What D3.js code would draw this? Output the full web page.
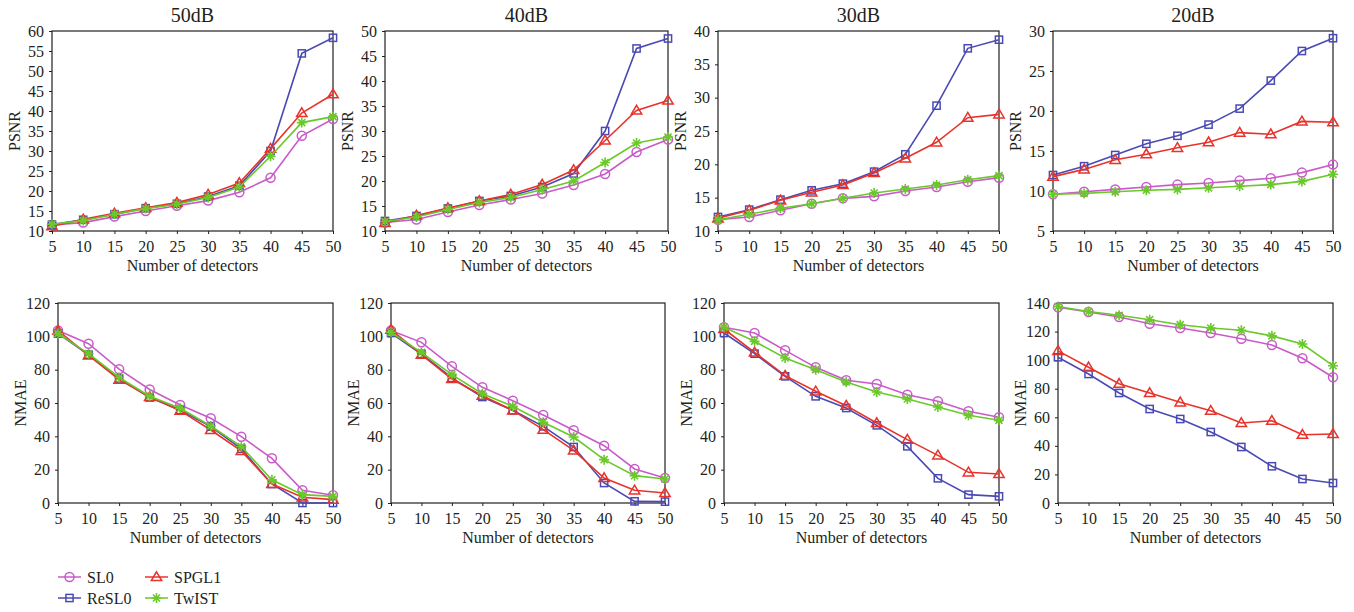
<!DOCTYPE html>
<html>
<head>
<meta charset="utf-8">
<script src="https://cdn.jsdelivr.net/npm/d3@7"></script>
<style>
  body { margin: 0; background: #fff; }
  text { font-family: "Liberation Serif", "DejaVu Serif", serif; fill: #231f20; }
</style>
</head>
<body>
<svg id="chart" width="1354" height="612"></svg>
<script>
// x values shared by every panel
const detectors = [5, 10, 15, 20, 25, 30, 35, 40, 45, 50];
const methods = ["SL0", "ReSL0", "SPGL1", "TwIST"];
const colors = ["#c95bc9", "#4a4ab4", "#e8332b", "#6ac92a"];
const shapes = ["circle", "square", "triangle", "star"];
const noiseLevels = ["50dB", "40dB", "30dB", "20dB"];

// PSNR per noise level, rows in method order (SL0, ReSL0, SPGL1, TwIST)
const psnr50 = [
  [11.5, 12.1, 13.6, 15.0, 16.3, 17.6, 19.7, 23.3, 33.8, 38.0],
  [11.6, 12.8, 14.2, 15.7, 16.8, 18.6, 21.3, 30.0, 54.4, 58.3],
  [11.2, 12.9, 14.4, 15.8, 17.1, 19.1, 22.0, 30.6, 39.5, 44.2],
  [11.7, 12.6, 14.2, 15.6, 16.7, 18.4, 21.0, 28.7, 37.1, 38.6]
];
const psnr40 = [
  [11.7, 12.3, 13.8, 15.2, 16.3, 17.5, 19.2, 21.4, 25.8, 28.3],
  [12.0, 13.0, 14.5, 16.0, 17.0, 18.8, 21.5, 30.0, 46.5, 48.5],
  [11.6, 13.1, 14.6, 16.0, 17.3, 19.3, 22.2, 28.1, 34.1, 36.1],
  [11.9, 12.8, 14.3, 15.7, 16.7, 18.3, 20.0, 23.7, 27.6, 28.8]
];
const psnr30 = [
  [11.7, 12.1, 13.1, 14.1, 14.9, 15.2, 16.0, 16.6, 17.4, 18.0],
  [12.1, 13.2, 14.7, 16.1, 17.1, 18.9, 21.5, 28.8, 37.4, 38.7],
  [11.9, 13.1, 14.6, 15.8, 16.9, 18.7, 20.9, 23.3, 27.0, 27.5],
  [11.7, 12.5, 13.4, 14.1, 14.9, 15.7, 16.3, 16.9, 17.7, 18.3]
];
const psnr20 = [
  [9.6, 9.9, 10.2, 10.5, 10.8, 11.0, 11.3, 11.6, 12.3, 13.3],
  [12.0, 13.1, 14.5, 15.9, 16.9, 18.3, 20.3, 23.8, 27.5, 29.1],
  [11.8, 12.7, 13.9, 14.6, 15.4, 16.1, 17.3, 17.1, 18.7, 18.6],
  [9.6, 9.7, 9.9, 10.1, 10.2, 10.4, 10.6, 10.8, 11.2, 12.1]
];

// NMAE per noise level, same row order
const nmae50 = [
  [103.5, 95.6, 80.3, 68.1, 58.8, 50.8, 39.8, 26.8, 7.6, 4.6],
  [101.6, 89.0, 74.7, 63.3, 55.8, 45.8, 32.5, 11.4, 0.0, 0.0],
  [103.5, 88.6, 74.0, 63.7, 55.4, 43.8, 31.3, 11.4, 3.4, 2.0],
  [101.6, 89.6, 75.3, 64.1, 56.8, 46.2, 33.9, 13.9, 5.0, 4.0]
];
const nmae40 = [
  [103.5, 96.4, 82.0, 69.4, 61.4, 52.8, 43.6, 34.4, 20.4, 15.0],
  [102.0, 89.4, 75.0, 63.6, 55.6, 46.0, 33.6, 12.0, 1.0, 0.8],
  [104.0, 89.0, 74.4, 64.4, 55.6, 44.0, 31.6, 15.0, 7.6, 6.0],
  [102.4, 90.4, 77.0, 65.6, 58.0, 48.4, 39.6, 26.0, 16.4, 14.4]
];
const nmae30 = [
  [105.5, 102.0, 91.6, 81.4, 73.6, 71.4, 65.0, 61.0, 55.0, 51.4],
  [102.0, 89.6, 76.0, 64.0, 57.0, 46.6, 34.0, 14.8, 5.0, 4.0],
  [104.4, 90.4, 76.4, 67.0, 58.4, 48.0, 38.0, 28.6, 18.4, 17.4],
  [105.4, 97.0, 87.0, 80.0, 72.6, 66.6, 62.4, 57.6, 52.6, 49.6]
];
const nmae20 = [
  [137.0, 133.7, 130.2, 125.5, 122.5, 119.0, 115.0, 110.6, 101.3, 88.0],
  [102.0, 90.3, 77.0, 65.8, 58.8, 49.7, 39.2, 25.7, 16.8, 14.0],
  [106.5, 95.0, 83.5, 77.0, 70.5, 64.6, 56.0, 57.6, 47.8, 48.3],
  [137.5, 134.0, 131.4, 128.3, 124.8, 122.5, 120.9, 117.0, 111.3, 96.1]
];

// y tick labels per panel
const psnrTicks = [
  [10, 15, 20, 25, 30, 35, 40, 45, 50, 55, 60],
  [10, 15, 20, 25, 30, 35, 40, 45, 50],
  [10, 15, 20, 25, 30, 35, 40],
  [5, 10, 15, 20, 25, 30]
];
const nmaeTicks = [
  [0, 20, 40, 60, 80, 100, 120],
  [0, 20, 40, 60, 80, 100, 120],
  [0, 20, 40, 60, 80, 100, 120],
  [0, 20, 40, 60, 80, 100, 120, 140]
];

const psnrData = [psnr50, psnr40, psnr30, psnr20];
const nmaeData = [nmae50, nmae40, nmae30, nmae20];

const svg = d3.select("#chart");

// plot boxes in page pixels
const topBoxes = [[52, 333], [385, 668], [718, 999], [1053, 1333]];
const bottomBoxes = [[58, 333], [391, 665], [724, 999], [1058, 1333]];

function drawMarker(g, shape, color, x, y) {
  if (shape === "circle") {
    g.append("circle").attr("cx", x).attr("cy", y).attr("r", 4.5)
      .attr("fill", "none").attr("stroke", color).attr("stroke-width", 1.5);
  } else if (shape === "square") {
    g.append("rect").attr("x", x - 3.6).attr("y", y - 3.6)
      .attr("width", 7.2).attr("height", 7.2)
      .attr("fill", "none").attr("stroke", color).attr("stroke-width", 1.5);
  } else if (shape === "triangle") {
    g.append("path")
      .attr("d", `M${x},${y - 5.2}L${x + 5.2},${y + 3.6}L${x - 5.2},${y + 3.6}Z`)
      .attr("fill", "none").attr("stroke", color).attr("stroke-width", 1.5);
  } else {
    let d = "";
    for (let k = 0; k < 4; k++) {
      const a = k * Math.PI / 4;
      const dx = 5 * Math.cos(a), dy = 5 * Math.sin(a);
      d += `M${x - dx},${y - dy}L${x + dx},${y + dy}`;
    }
    g.append("path").attr("d", d).attr("stroke", color).attr("stroke-width", 1.6);
  }
}

function drawPanel(box, top, bottom, yTicks, rows, yLabel, title) {
  const [left, right] = box;
  const x = d3.scaleLinear().domain([5, 50]).range([left, right]);
  const y = d3.scaleLinear().domain([yTicks[0], yTicks[yTicks.length - 1]]).range([bottom, top]);

  const g = svg.append("g");

  // axes
  g.append("g")
    .attr("transform", `translate(0,${bottom})`)
    .call(d3.axisBottom(x).tickValues(detectors).tickSize(3).tickPadding(7).tickSizeOuter(0))
    .call(a => a.select(".domain").remove())
    .selectAll("text").style("font-size", "16px").attr("fill", "#231f20");

  g.append("g")
    .attr("transform", `translate(${left},0)`)
    .call(d3.axisLeft(y).tickValues(yTicks).tickSize(3).tickPadding(5).tickSizeOuter(0))
    .call(a => a.select(".domain").remove())
    .selectAll("text").style("font-size", "16px").attr("fill", "#231f20");

  g.selectAll(".tick line").attr("stroke", "#231f20");

  // frame
  g.append("rect")
    .attr("x", left).attr("y", top)
    .attr("width", right - left).attr("height", bottom - top)
    .attr("fill", "none").attr("stroke", "#231f20").attr("stroke-width", 1.2);

  const line = d3.line().x((d, i) => x(detectors[i])).y(d => y(d));

  rows.forEach((vals, m) => {
    g.append("path").datum(vals)
      .attr("d", line)
      .attr("fill", "none").attr("stroke", colors[m]).attr("stroke-width", 1.6);
    const mg = g.append("g");
    vals.forEach((v, i) => drawMarker(mg, shapes[m], colors[m], x(detectors[i]), y(v)));
  });

  // labels
  g.append("text")
    .attr("transform", `translate(${left - 38},${(top + bottom) / 2}) rotate(-90)`)
    .attr("text-anchor", "middle").attr("dy", "0.35em")
    .style("font-size", "16px").text(yLabel);

  g.append("text")
    .attr("x", (left + right) / 2).attr("y", bottom + 40)
    .attr("text-anchor", "middle")
    .style("font-size", "16px").text("Number of detectors");

  if (title) {
    g.append("text")
      .attr("x", (left + right) / 2).attr("y", 22)
      .attr("text-anchor", "middle")
      .style("font-size", "20px").text(title);
  }
}

noiseLevels.forEach((lvl, p) => {
  drawPanel(topBoxes[p], 31, 231, psnrTicks[p], psnrData[p], "PSNR", lvl);
  drawPanel(bottomBoxes[p], 303, 503, nmaeTicks[p], nmaeData[p], "NMAE", null);
});

// legend
const legendPos = [[58, 577], [58, 598], [145, 577], [145, 598]];
const legend = svg.append("g");
methods.forEach((name, m) => {
  const [lx, ly] = legendPos[m];
  legend.append("line")
    .attr("x1", lx).attr("x2", lx + 23).attr("y1", ly).attr("y2", ly)
    .attr("stroke", colors[m]).attr("stroke-width", 1.5);
  drawMarker(legend, shapes[m], colors[m], lx + 11.5, ly);
  legend.append("text")
    .attr("x", lx + 29).attr("y", ly).attr("dy", "0.35em")
    .style("font-size", "16px").text(name);
});
</script>
</body>
</html>
